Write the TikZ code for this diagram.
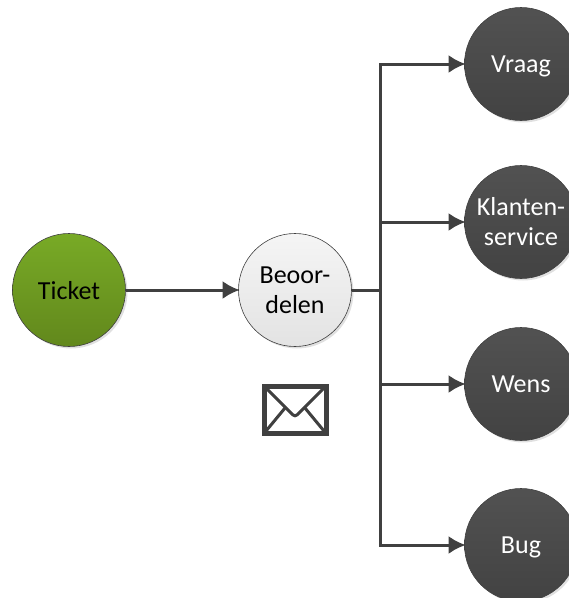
\documentclass[tikz,border=0pt]{standalone}
\usepackage{fontspec}
\setmainfont{Carlito}
\usetikzlibrary{arrows.meta,shadows}

\definecolor{lijn}{HTML}{404040}
\definecolor{lijngroen}{HTML}{78AA26}
\definecolor{lijngroendonker}{HTML}{62881C}
\tikzset{
  rondje/.style={circle,draw=lijn,line width=0.6pt,minimum size=113pt,inner sep=0pt,align=center,
    font=\fontsize{26}{30}\selectfont,
    drop shadow={shadow xshift=2pt,shadow yshift=-2pt,opacity=0.12,fill=black}},
  groen/.style={rondje,top color=lijngroen,bottom color=lijngroendonker},
  licht/.style={rondje,top color=black!4,bottom color=black!11},
  donker/.style={rondje,top color=black!68,bottom color=black!74,text=white},
  pijl/.style={draw=lijn,line width=3pt,shorten >=-1.5pt,-{Latex[length=17pt,width=18pt]}},
  lijntje/.style={draw=lijn,line width=3pt}
}

\begin{document}
\begin{tikzpicture}[x=1pt,y=-1pt]
\useasboundingbox (0,0) rectangle (569,598);

% Knooppunten
\node[groen,text depth=0pt] (ticket) at (69,290) {Ticket};
\node[licht] (beoordelen) at (295,290) {Beoor-\\delen};
\node[donker,text depth=0pt] (vraag) at (521,64) {Vraag};
\node[donker] (klanten) at (521,222) {Klanten-\\service};
\node[donker,text depth=0pt] (wens) at (521,384) {Wens};
\node[donker,text depth=0pt] (bug) at (521,545) {Bug};

% Verbindingen
\coordinate (splitsing) at (380,290);
\draw[pijl] (ticket) -- (beoordelen);
\draw[lijntje] (beoordelen) -- (splitsing);
\foreach \doel in {vraag,klanten,wens,bug}
  \draw[pijl] (splitsing) |- (\doel);

% Envelop
\draw[lijn,line width=5pt,fill=white,line join=miter] (264.5,386) rectangle (326.5,433);
\draw[lijn,line width=3pt,rounded corners=3pt] (266,388) -- (295,417) -- (324,388);
\draw[lijn,line width=3pt] (266,431) -- (285,408);
\draw[lijn,line width=3pt] (324,431) -- (305,408);
\end{tikzpicture}
\end{document}
